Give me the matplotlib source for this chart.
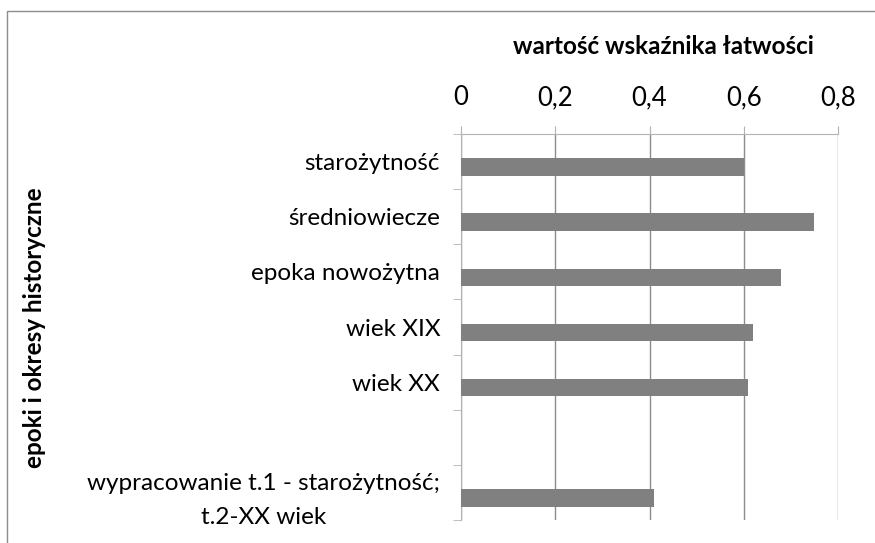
import matplotlib
matplotlib.use("Agg")
import matplotlib.pyplot as plt
from matplotlib.patches import Rectangle
from matplotlib.ticker import FuncFormatter, FixedLocator

plt.rcParams['font.family'] = ['Lato', 'DejaVu Sans']

categories = ["starożytność", "średniowiecze", "epoka nowożytna", "wiek XIX",
              "wiek XX", "", "wypracowanie t.1 - starożytność;\nt.2-XX wiek"]
values = [0.60, 0.75, 0.68, 0.62, 0.61, None, 0.41]
xticks = [0, 0.2, 0.4, 0.6, 0.8]
fs = 17.5

fig = plt.figure(figsize=(8.75, 5.43), dpi=100)
ax = fig.add_axes([461 / 875, 1 - 520 / 543, 377 / 875, 386 / 543])

pos = [i for i, v in enumerate(values) if v is not None]
vals = [v for v in values if v is not None]
ax.barh([p + 0.1 for p in pos], vals, height=0.32, color="#808080", zorder=3)

ax.set_xlim(0, 0.8)
ax.set_ylim(len(categories) - 0.5, -0.5)

ax.xaxis.tick_top()
ax.set_xticks(xticks)
ax.xaxis.set_major_formatter(FuncFormatter(lambda v, p: ("%g" % v).replace(".", ",")))
ax.tick_params(axis="x", which="major", length=6, color="#b3b3b3", labelsize=18.5, pad=11)
ax.grid(axis="x", color="#8c8c8c", linewidth=1, zorder=0)

ax.set_yticks(range(len(categories)))
ax.set_yticklabels(categories, fontsize=fs, linespacing=1.75)
for t in ax.get_yticklabels():
    t.set_multialignment("center")
ax.yaxis.set_minor_locator(FixedLocator([i - 0.5 for i in range(len(categories) + 1)]))
ax.tick_params(axis="y", which="major", length=0, pad=15)
ax.tick_params(axis="y", which="minor", length=6, color="#b3b3b3")

fig.text(663 / 875, 1 - 46 / 543, "wartość wskaźnika łatwości", fontsize=fs,
         fontweight="bold", ha="center", va="center")
fig.text(35 / 875, 1 - 328 / 543, "epoki i okresy historyczne", fontsize=fs,
         fontweight="bold", ha="center", va="center", rotation=90)

for s in ["right", "bottom"]:
    ax.spines[s].set_visible(False)
for s in ["left", "top"]:
    ax.spines[s].set_color("#b3b3b3")

fig.patches.append(Rectangle((7 / 875, -0.1), 1.2, 1 - 11 / 543 + 0.1,
                             transform=fig.transFigure, fill=False,
                             edgecolor="#8c8c8c", linewidth=1))

fig.savefig("out.png", dpi=100)
